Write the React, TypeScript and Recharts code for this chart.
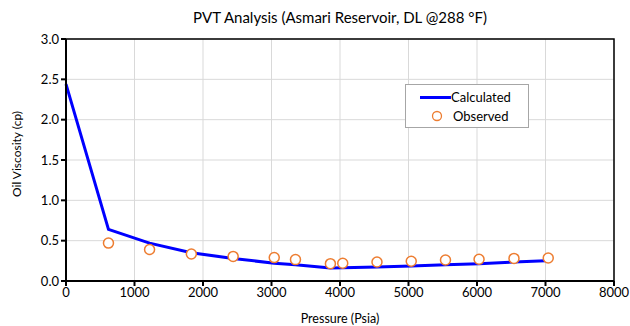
import {
  CartesianGrid,
  ComposedChart,
  Line,
  ReferenceArea,
  Scatter,
  XAxis,
  YAxis,
} from "recharts";

const calcPressure = [0, 620, 1220, 1830, 2440, 3040, 3350, 3860, 4040, 4540, 5040, 5540, 6030, 6540, 7000];
const calcViscosity = [2.44, 0.64, 0.47, 0.35, 0.28, 0.22, 0.2, 0.16, 0.165, 0.175, 0.186, 0.2, 0.215, 0.235, 0.25];
const obsPressure = [620, 1220, 1830, 2440, 3040, 3350, 3860, 4040, 4540, 5040, 5540, 6030, 6540, 7040];
const obsViscosity = [0.47, 0.39, 0.335, 0.305, 0.29, 0.265, 0.215, 0.22, 0.235, 0.245, 0.26, 0.27, 0.28, 0.285];
const xTicks = [0, 1000, 2000, 3000, 4000, 5000, 6000, 7000, 8000];
const yTicks = [0, 0.5, 1, 1.5, 2, 2.5, 3];

const calculated = calcPressure.map((p, i) => ({ p, v: calcViscosity[i] }));
const observed = obsPressure.map((p, i) => ({ p, v: obsViscosity[i] }));

const font = "Lato, 'Open Sans', sans-serif";

function LegendBox() {
  return (
    <div
      style={{
        position: "absolute",
        left: 405,
        top: 84,
        border: "1px solid #a6a6a6",
        background: "#fff",
        width: 124,
        height: 44,
        fontFamily: font,
        fontSize: 13,
        color: "#000",
        boxSizing: "border-box",
        paddingTop: 3,
      }}
    >
      <div style={{ display: "flex", alignItems: "center", height: 18 }}>
        <div style={{ width: 31, height: 3, background: "#0000ff", marginLeft: 14 }} />
        <span>Calculated</span>
      </div>
      <div style={{ display: "flex", alignItems: "center", height: 20 }}>
        <svg width={27} height={14} style={{ marginLeft: 20 }}>
          <circle cx={11} cy={7} r={4.5} fill="#fff" stroke="#ed7d31" strokeWidth={1.3} />
        </svg>
        <span>Observed</span>
      </div>
    </div>
  );
}

export default function App() {
  return (
    <div style={{ position: "absolute", top: 0, left: 0, width: 630, height: 326, background: "#fff", overflow: "hidden" }}>
      <ComposedChart
        width={630}
        height={326}
        margin={{ top: 39, right: 16, bottom: 0, left: 26 }}
        style={{ fontFamily: font }}
      >
        <text x={340} y={23} textAnchor="middle" fontSize={15} fill="#000" fontFamily={font}>
          PVT Analysis (Asmari Reservoir, DL @288 °F)
        </text>
        <text x={340} y={323} textAnchor="middle" fontSize={12.5} fill="#000" fontFamily={font}>
          Pressure  (Psia)
        </text>
        <text
          x={0}
          y={0}
          transform="translate(21 154) rotate(-90)"
          textAnchor="middle"
          fontSize={12}
          fill="#000"
          fontFamily={font}
        >
          Oil Viscosity (cp)
        </text>
        <CartesianGrid stroke="#d9d9d9" strokeWidth={1} />
        <XAxis
          type="number"
          dataKey="p"
          domain={[0, 8000]}
          ticks={xTicks}
          interval={0}
          height={45}
          tickSize={5}
          tick={{ fill: "#000", fontSize: 13 }}
          stroke="#000"
          strokeWidth={2}
        />
        <YAxis
          type="number"
          dataKey="v"
          domain={[0, 3]}
          ticks={yTicks}
          interval={0}
          width={40}
          tickSize={5}
          tickFormatter={(v: number) => v.toFixed(1)}
          tick={{ fill: "#000", fontSize: 13 }}
          stroke="#000"
          strokeWidth={2}
        />
        <ReferenceArea x1={0} x2={8000} y1={0} y2={3} fill="none" stroke="#000" strokeWidth={1.5} ifOverflow="visible" />
        <Line
          data={calculated}
          dataKey="v"
          stroke="#0000ff"
          strokeWidth={3}
          dot={false}
          isAnimationActive={false}
        />
        <Scatter
          data={observed}
          dataKey="v"
          isAnimationActive={false}
          shape={(props: any) => (
            <circle cx={props.cx} cy={props.cy} r={5} fill="#fff" stroke="#ed7d31" strokeWidth={1.5} />
          )}
        />
      </ComposedChart>
      <LegendBox />
    </div>
  );
}
